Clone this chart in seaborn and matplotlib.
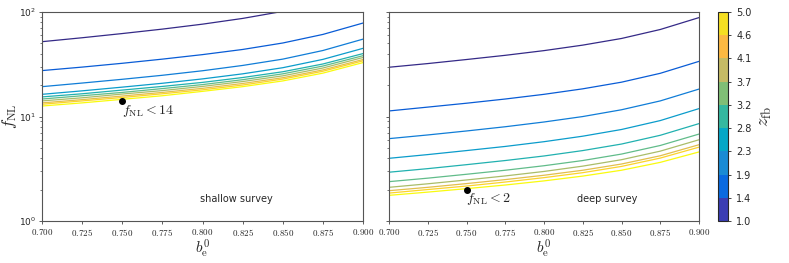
import matplotlib
matplotlib.use("Agg")
import matplotlib.pyplot as plt
import matplotlib.colors as mcolors
import matplotlib.ticker as mticker
import numpy as np
import pandas as pd
import seaborn as sns

# data
b_e = [0.700, 0.725, 0.750, 0.775, 0.800, 0.825, 0.850, 0.875, 0.900]
z_fb = [1.0, 1.444, 1.889, 2.333, 2.778, 3.222, 3.667, 4.111, 4.556, 5.0]

shallow = [
    [52.0, 56.7, 62.2, 68.6, 76.5, 86.8, 101.4, 124.7, 164.4],
    [27.5, 29.7, 32.3, 35.4, 39.1, 43.8, 50.5, 61.0, 78.4],
    [19.3, 20.9, 22.7, 24.8, 27.4, 30.8, 35.4, 42.8, 55.0],
    [16.3, 17.6, 19.1, 20.8, 22.9, 25.6, 29.3, 35.2, 44.9],
    [15.4, 16.5, 17.9, 19.4, 21.2, 23.6, 26.8, 31.8, 40.0],
    [14.7, 15.8, 17.0, 18.5, 20.2, 22.5, 25.6, 30.4, 38.2],
    [14.1, 15.1, 16.4, 17.7, 19.4, 21.6, 24.5, 29.1, 36.7],
    [13.5, 14.5, 15.7, 17.0, 18.6, 20.7, 23.5, 27.9, 35.1],
    [13.1, 14.1, 15.2, 16.5, 18.0, 20.0, 22.8, 27.1, 34.1],
    [12.6, 13.5, 14.6, 15.8, 17.4, 19.3, 21.9, 26.0, 32.8],
]
deep = [
    [29.6, 32.1, 35.1, 38.5, 42.7, 48.2, 55.8, 68.0, 88.4],
    [11.3, 12.3, 13.4, 14.7, 16.3, 18.4, 21.3, 25.9, 33.7],
    [6.14, 6.66, 7.27, 7.98, 8.86, 9.99, 11.6, 14.1, 18.3],
    [3.98, 4.32, 4.72, 5.17, 5.74, 6.48, 7.51, 9.14, 11.9],
    [2.93, 3.17, 3.46, 3.79, 4.19, 4.72, 5.45, 6.61, 8.55],
    [2.38, 2.57, 2.80, 3.06, 3.38, 3.79, 4.37, 5.28, 6.79],
    [2.10, 2.27, 2.47, 2.70, 2.98, 3.35, 3.86, 4.66, 5.99],
    [1.95, 2.10, 2.28, 2.49, 2.74, 3.06, 3.51, 4.21, 5.37],
    [1.85, 2.00, 2.16, 2.36, 2.60, 2.90, 3.33, 4.00, 5.09],
    [1.76, 1.89, 2.04, 2.21, 2.42, 2.69, 3.06, 3.64, 4.58],
]
marker_shallow = (0.75, 14)
marker_deep = (0.75, 2)
cbar_ticks = [1.0, 1.4, 1.9, 2.3, 2.8, 3.2, 3.7, 4.1, 4.6, 5.0]

# parula-like colours
parula = mcolors.LinearSegmentedColormap.from_list(
    "parula", ["#352a87", "#0363e1", "#1485d4", "#06a7c6", "#38b99e",
               "#92bf73", "#d9ba56", "#fcce2e", "#f9fb0e"])
bin_colors = ["#3a3db3", "#0a6ae0", "#1a8bd4", "#06a7c7", "#35b8a0",
              "#80bf76", "#c5bb65", "#fcb942", "#f5df22"]

sns.set_style("ticks")
plt.rcParams["mathtext.fontset"] = "cm"
plt.rcParams["font.family"] = ["DejaVu Sans"]


def to_frame(rows):
    recs = []
    for z, row in zip(z_fb, rows):
        for x, y in zip(b_e, row):
            recs.append({"b": x, "f": y, "z": z})
    return pd.DataFrame(recs)


palette = {z: parula((z - 1) / 4) for z in z_fb}

fig = plt.figure(figsize=(7.89, 2.63), dpi=100)
W, H = 789, 263
ax1 = fig.add_axes([42 / W, 1 - 221 / H, 321 / W, 209 / H])
ax2 = fig.add_axes([389 / W, 1 - 221 / H, 310 / W, 209 / H], sharey=ax1)
cax = fig.add_axes([718 / W, 1 - 221 / H, 10 / W, 209 / H])

tick_fmt = mticker.FuncFormatter(lambda v, p: r"$%.3f$" % v)

for ax, rows, mk, lab, title, tx in [
    (ax1, shallow, marker_shallow, r"$f_{\rm NL} < 14$", "shallow survey", 0.607),
    (ax2, deep, marker_deep, r"$f_{\rm NL} < 2$", "deep survey", 0.703),
]:
    sns.lineplot(data=to_frame(rows), x="b", y="f", hue="z", palette=palette,
                 legend=False, lw=0.9, ax=ax)
    ax.set_yscale("log")
    ax.set_xlim(0.7, 0.9)
    ax.set_ylim(1, 100)
    ax.plot(*mk, "o", color="black", ms=4, zorder=5)
    ax.text(mk[0], mk[1] * 0.97, lab, ha="left", va="top", fontsize=10)
    ax.text(tx, 0.105, title, transform=ax.transAxes, ha="center",
            va="center", fontsize=7)
    ax.set_xticks(np.arange(0.7, 0.9001, 0.025))
    ax.xaxis.set_major_formatter(tick_fmt)
    ax.tick_params(labelsize=6.5, length=2.5, width=0.6, pad=2,
                   color="#444444")
    ax.tick_params(which="minor", length=1.6, width=0.5, color="#444444")
    ax.set_xlabel(r"$b_{\rm e}^0$", fontsize=11, labelpad=0)
    ax.set_ylabel("")
    for s in ax.spines.values():
        s.set_color("#555555")
        s.set_linewidth(0.8)

ax1.set_ylabel(r"$f_{\rm NL}$", fontsize=12, labelpad=0)
ax2.tick_params(axis="y", labelleft=False)

norm = mcolors.BoundaryNorm(z_fb, len(bin_colors))
sm = plt.cm.ScalarMappable(norm=norm, cmap=mcolors.ListedColormap(bin_colors))
cb = fig.colorbar(sm, cax=cax, ticks=z_fb)
cb.ax.set_yticklabels(["%.1f" % t for t in cbar_ticks])
cb.ax.tick_params(labelsize=7, length=2.5, width=0.6)
cb.outline.set_linewidth(0.8)
cb.set_label(r"$z_{\rm fb}$", fontsize=13, labelpad=3)

fig.savefig("out.png", dpi=100)
